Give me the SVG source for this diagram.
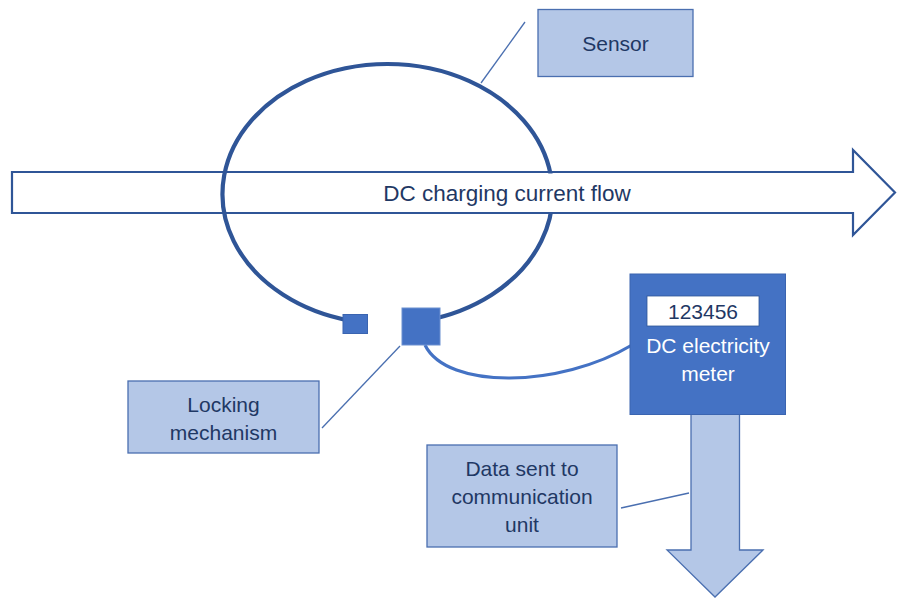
<svg xmlns="http://www.w3.org/2000/svg" width="897" height="598" viewBox="0 0 897 598">
  <style>
    .txt { font-family: "Liberation Sans", Arial, sans-serif; font-size: 21px; fill: #1F3864; text-anchor: middle; dominant-baseline: central; }
    .callout { fill: #B4C7E7; stroke: #4A6FB0; stroke-width: 1.3; }
    .leader { stroke: #4A6FB0; stroke-width: 1.3; fill: none; }
  </style>
  <rect width="897" height="598" fill="#ffffff"/>

  <!-- current flow arrow -->
  <g id="flow-arrow">
    <path d="M12,172 H853 V150 L895,192.5 L853,235 V213 H12 Z" fill="#ffffff" stroke="#2F5597" stroke-width="2.2" stroke-linejoin="miter"/>
  </g>

  <!-- sensor loop -->
  <g id="sensor-loop">
    <path d="M350,320.6 A165,130 0 1 1 425,320.6" fill="none" stroke="#2F5597" stroke-width="4.2"/>
    <rect x="343" y="314.5" width="24.5" height="19" fill="#4472C4" stroke="#3A64B0" stroke-width="1"/>
  </g>

  <!-- flow label -->
  <g id="flow-label">
    <rect x="377" y="173.5" width="258" height="38.5" fill="#ffffff"/>
    <text class="txt" x="507" y="193" font-size="22.5" style="font-size:22.5px">DC charging current flow</text>
  </g>

  <!-- connectors -->
  <g id="connectors">
    <path d="M425,345 C 447,390 560,388 632,345" fill="none" stroke="#4472C4" stroke-width="3.2"/>
    <line class="leader" x1="525" y1="22" x2="481" y2="83"/>
    <line class="leader" x1="322" y1="428" x2="400" y2="346"/>
    <line class="leader" x1="621" y1="508" x2="689" y2="493"/>
  </g>

  <!-- locking box -->
  <g id="lock">
    <rect x="402" y="308" width="38" height="37" fill="#4472C4" stroke="#6A8FD0" stroke-width="1"/>
  </g>

  <!-- data down arrow -->
  <g id="data-arrow">
    <path d="M691,414 H739.5 V550 H763 L715,597 L667,550 H691 Z" fill="#B4C7E7" stroke="#4A6FB0" stroke-width="1.3"/>
  </g>

  <!-- electricity meter -->
  <g id="meter">
    <rect x="630" y="274" width="155.5" height="140.5" fill="#4472C4" stroke="#3A64B0" stroke-width="1"/>
    <rect x="647" y="296" width="112" height="30" fill="#ffffff" stroke="#2F5597" stroke-width="0.8"/>
    <text class="txt" x="703" y="311.5">123456</text>
    <text class="txt" x="708" y="345" style="fill:#ffffff">DC electricity</text>
    <text class="txt" x="708" y="373" style="fill:#ffffff">meter</text>
  </g>

  <!-- callouts -->
  <g id="sensor-callout">
    <rect class="callout" x="538" y="9.5" width="155" height="67"/>
    <text class="txt" x="615.5" y="43.5">Sensor</text>
  </g>

  <g id="lock-callout">
    <rect class="callout" x="128" y="381" width="191" height="72"/>
    <text class="txt" x="223.5" y="404.5">Locking</text>
    <text class="txt" x="223.5" y="432.5">mechanism</text>
  </g>

  <g id="data-callout">
    <rect class="callout" x="427" y="445" width="190" height="102"/>
    <text class="txt" x="522" y="468">Data sent to</text>
    <text class="txt" x="522" y="496">communication</text>
    <text class="txt" x="522" y="524">unit</text>
  </g>
</svg>
